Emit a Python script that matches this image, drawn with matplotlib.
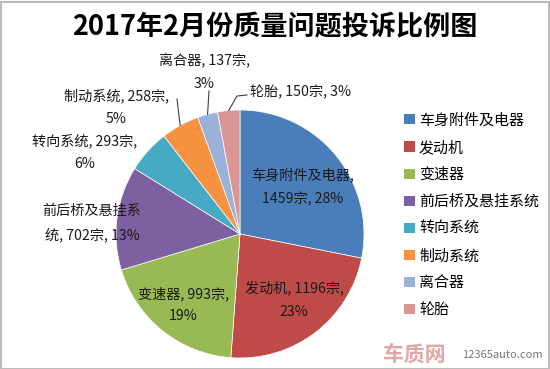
import matplotlib.pyplot as plt
import numpy as np
from matplotlib.patches import Rectangle

plt.rcParams['font.family'] = ['Noto Sans CJK SC', 'DejaVu Sans']

categories = ['车身附件及电器', '发动机', '变速器', '前后桥及悬挂系统',
              '转向系统', '制动系统', '离合器', '轮胎']
counts = [1459, 1196, 993, 702, 293, 258, 137, 150]
percents = ['28%', '23%', '19%', '13%', '6%', '5%', '3%', '3%']
colors = ['#4A7EBB', '#BE4B48', '#98B954', '#7D60A0',
          '#46AAC5', '#F69240', '#9BB1D9', '#D99694']

# label text (line breaks as in the picture) and label centre in pixels
label_text = ['%s,\n%d宗, %s' % (categories[0], counts[0], percents[0]),
              '%s, %d宗,\n%s' % (categories[1], counts[1], percents[1]),
              '%s, %d宗,\n%s' % (categories[2], counts[2], percents[2]),
              '前后桥及悬挂系\n统, %d宗, %s' % (counts[3], percents[3]),
              '%s, %d宗,\n%s' % (categories[4], counts[4], percents[4]),
              '%s, %d宗,\n%s' % (categories[5], counts[5], percents[5]),
              '%s, %d宗,\n%s' % (categories[6], counts[6], percents[6]),
              '%s, %d宗, %s' % (categories[7], counts[7], percents[7])]
label_px = [(303, 187), (294, 300), (183, 305), (92, 223),
            (85, 152), (116, 107), (204, 72), (300, 92)]
# leader line start points (pixels), None = no leader
leader_px = [None, None, None, None, None,
             [(177, 99)], [(209, 91)], [(247, 95), (237, 96)]]

W, H = 550, 369
cx, cy, R = 240, 234, 124


def to_data(px, py):
    return (px - cx) / R, (cy - py) / R


fig = plt.figure(figsize=(W / 100, H / 100), dpi=100)
ax = fig.add_axes([0, 0, 1, 1])
wedges, _ = ax.pie(counts, colors=colors, startangle=90, counterclock=False,
                   radius=1, center=(0, 0),
                   wedgeprops=dict(edgecolor='white', linewidth=0.5))
ax.set_xlim(-cx / R, (W - cx) / R)
ax.set_ylim((cy - H) / R, cy / R)
ax.set_aspect('auto')
ax.axis('off')

total = float(sum(counts))
cum = np.cumsum([0] + counts) / total
for i in range(len(counts)):
    x, y = to_data(*label_px[i])
    ax.text(x, y, label_text[i], ha='center', va='center', fontsize=10.2,
            linespacing=1.75, color='#1a1a1a')
    if leader_px[i] is not None:
        mid = (cum[i] + cum[i + 1]) / 2
        ang = np.deg2rad(90 - 360 * mid)
        pts = [to_data(*p) for p in leader_px[i]] + [(np.cos(ang), np.sin(ang))]
        ax.plot([p[0] for p in pts], [p[1] for p in pts], color='#404040', lw=0.8)

fig.text(0.5, 1 - 27 / H, '2017年2月份质量问题投诉比例图', ha='center', va='center',
         fontsize=19.5, fontweight='heavy')

handles = [Rectangle((0, 0), 1, 1, facecolor=c) for c in colors]
fig.legend(handles, categories, loc='upper left',
           bbox_to_anchor=(398 / W, 1 - 107 / H), frameon=False,
           fontsize=10.8, handlelength=0.7, handleheight=0.7,
           handletextpad=0.3, labelspacing=0.86, borderaxespad=0)

# watermark
fig.text(383 / W, 1 - 354 / H, '车质网', fontsize=15, fontweight='bold',
         color='#C0504D', alpha=0.5, ha='left', va='center')
fig.text(462 / W, 1 - 355 / H, '12365auto.com', fontsize=8,
         color='#555555', alpha=0.8, ha='left', va='center')

fig.patches.append(Rectangle((0.5 / W, 0.5 / H), 1 - 2 / W, 1 - 2 / H,
                             transform=fig.transFigure, fill=False,
                             edgecolor='#BBBBBB', linewidth=1.5))

fig.savefig('out.png', dpi=100)
